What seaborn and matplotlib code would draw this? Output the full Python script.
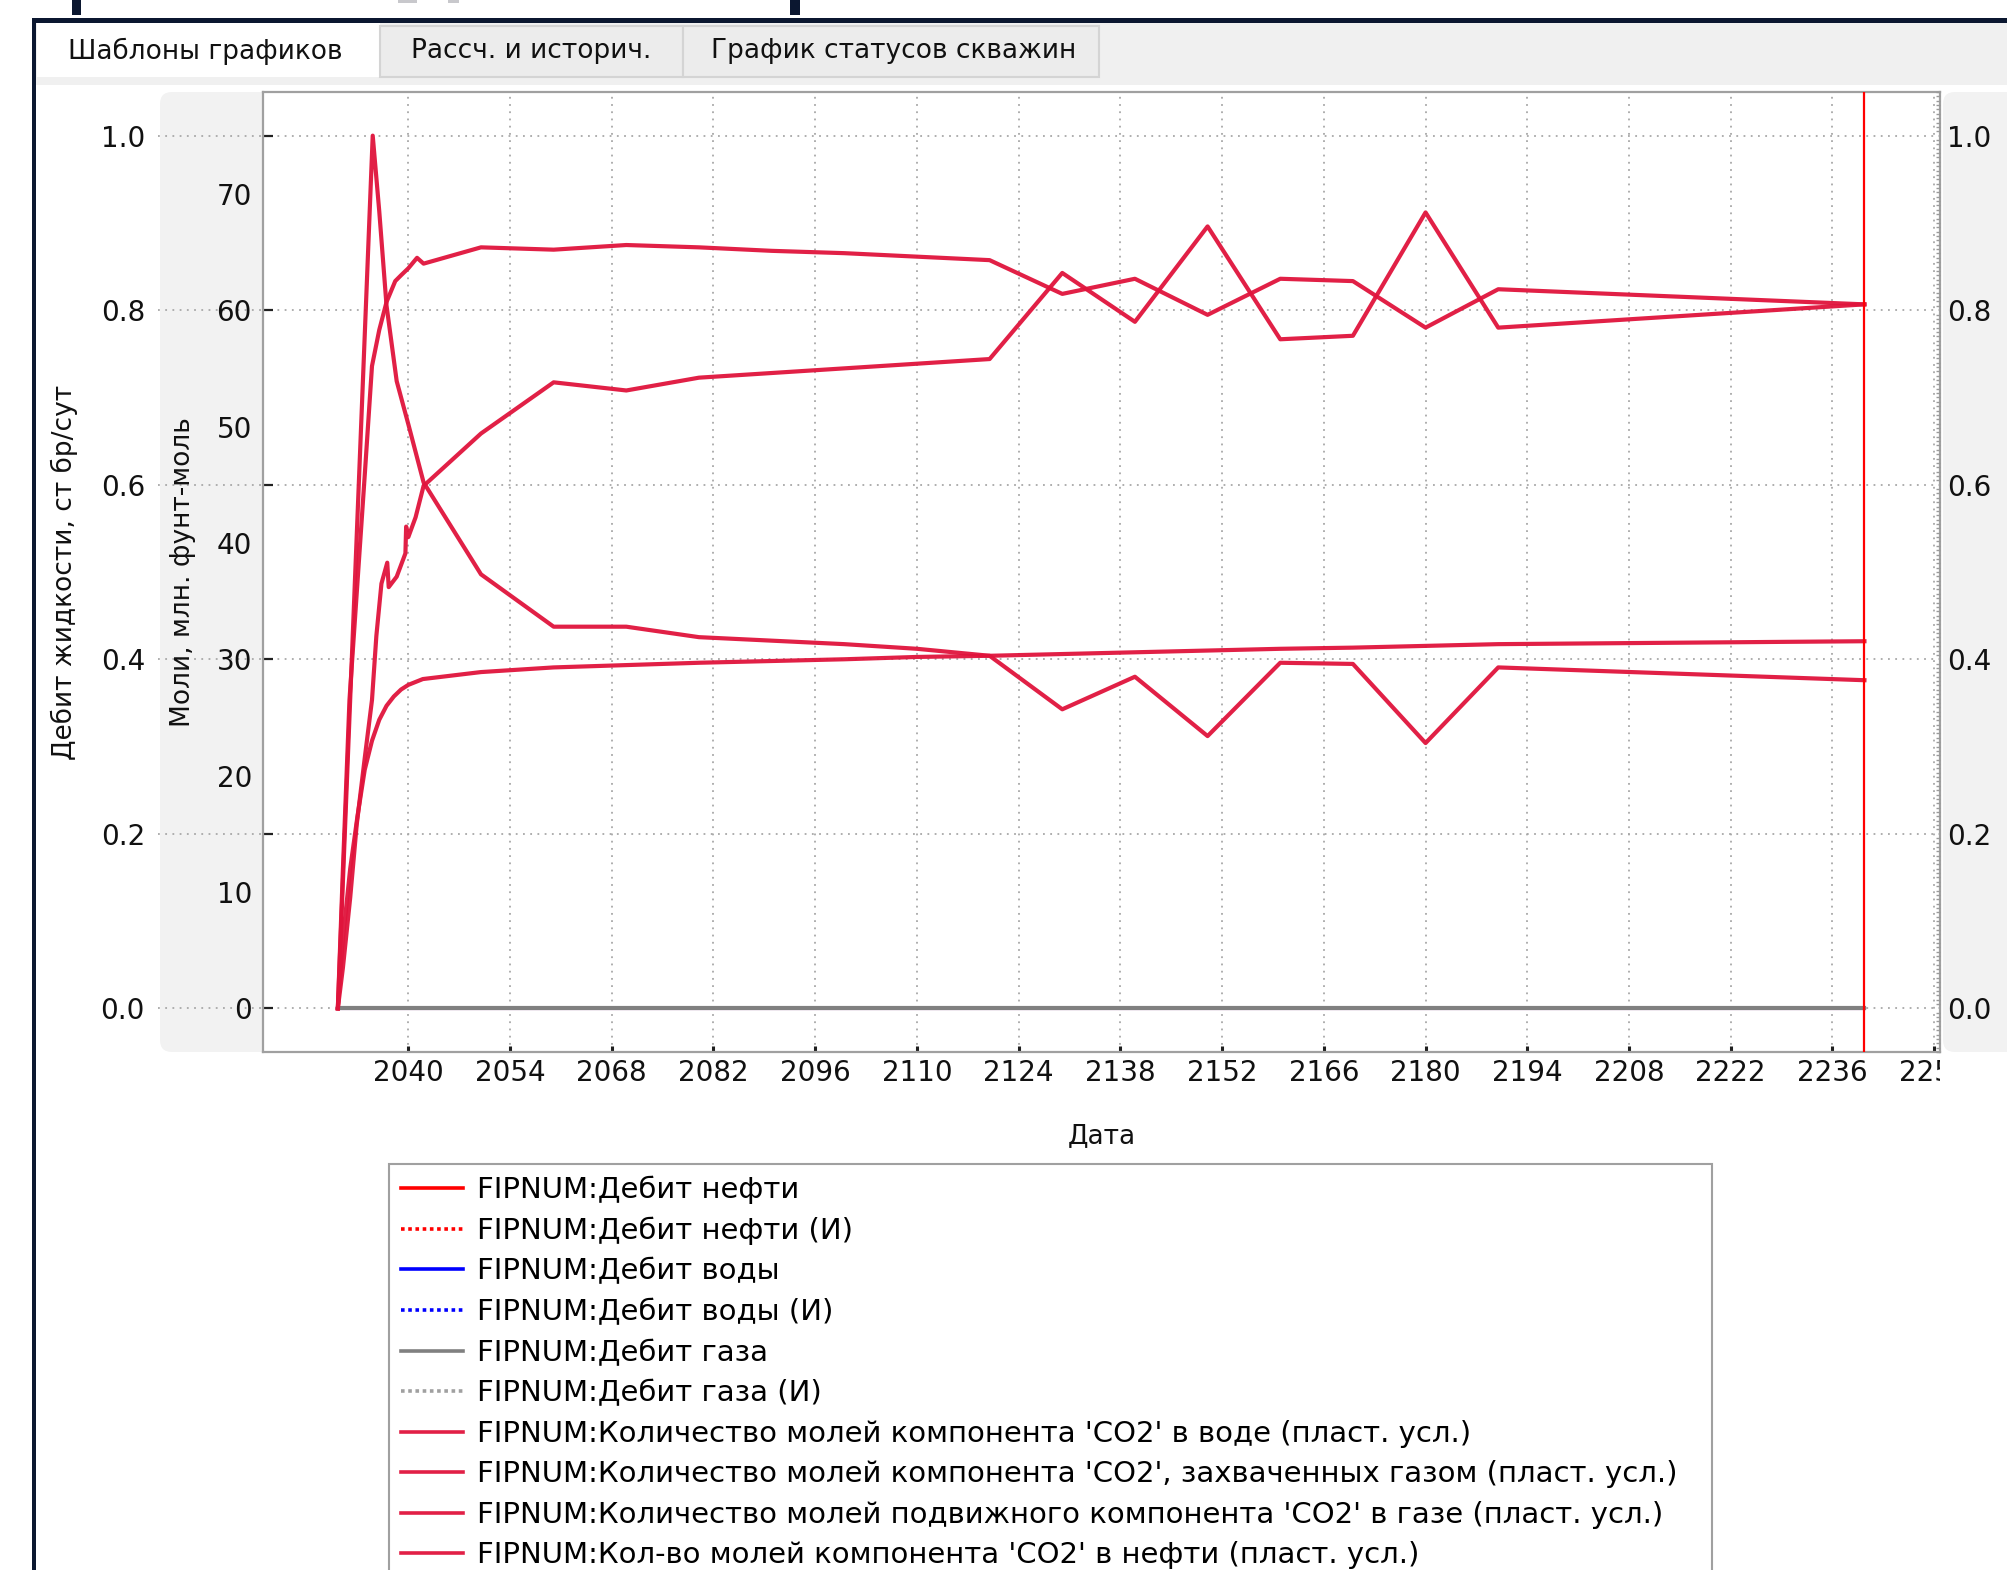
import matplotlib
matplotlib.use("Agg")
import matplotlib.pyplot as plt
import seaborn as sns
from matplotlib.patches import FancyBboxPatch, Rectangle
from matplotlib.lines import Line2D
from matplotlib.ticker import MultipleLocator
from matplotlib.transforms import Bbox, TransformedBbox, IdentityTransform

# ---------------- data ----------------
# Field rates (liquid-rate axis, st bbl/day)
rate_dates = [2030.3, 2240.4]
oil_rate = [0.0, 0.0]
water_rate = [0.0, 0.0]
gas_rate = [0.0, 0.0]
current_date = 2240.4

# CO2 moles, million lb-mol
co2_water_dates = [2030.3, 2031, 2032, 2033, 2034, 2035, 2036, 2037, 2038, 2039, 2040,
                   2042, 2050, 2060, 2070, 2080, 2090, 2100, 2110, 2120, 2130, 2140,
                   2150, 2160, 2170, 2180, 2190, 2200, 2210, 2220, 2230, 2240.4]
co2_water = [0.0, 6.0, 12.0, 16.5, 20.5, 23.0, 24.8, 26.0, 26.8, 27.4, 27.8,
             28.3, 28.9, 29.3, 29.5, 29.7, 29.85, 30.0, 30.2, 30.3, 30.45, 30.6,
             30.75, 30.9, 31.0, 31.15, 31.3, 31.35, 31.4, 31.45, 31.5, 31.55]

co2_trapped_dates = [2030.3, 2035.1, 2036, 2037, 2038.4, 2040, 2042.1, 2050, 2060, 2070,
                     2080, 2090, 2100, 2110, 2120, 2130, 2140, 2150, 2160, 2170, 2180,
                     2190, 2240.4]
co2_trapped = [0.0, 75.0, 68.5, 60.4, 53.9, 50.2, 45.2, 37.3, 32.8, 32.8,
               31.9, 31.6, 31.3, 30.9, 30.3, 25.7, 28.5, 23.4, 29.7, 29.6, 22.8,
               29.3, 28.2]

co2_mobile_dates = [2030.3, 2031, 2032, 2032.9, 2034, 2035.0, 2035.6, 2036.3, 2037.1,
                    2037.3, 2038.4, 2039.6, 2039.7, 2040.0, 2041.0, 2042.1, 2050, 2060,
                    2070, 2080, 2090, 2100, 2110, 2120, 2130, 2140, 2150, 2160, 2170,
                    2180, 2190, 2240.4]
co2_mobile = [0.0, 3.5, 9.5, 15.8, 21.5, 26.5, 32.0, 36.5, 38.3,
              36.2, 37.1, 39.1, 41.4, 40.5, 42.2, 44.9, 49.4, 53.8,
              53.1, 54.2, 54.6, 55.0, 55.4, 55.8, 63.2, 59.0, 67.2, 57.5, 57.8,
              68.4, 58.5, 60.5]

co2_oil_dates = [2030.3, 2031, 2031.9, 2033, 2034, 2035, 2036, 2037, 2038.2, 2039, 2040,
                 2041.2, 2042.1, 2050, 2060, 2070, 2080, 2090, 2100, 2110, 2120, 2130,
                 2140, 2150, 2160, 2170, 2180, 2190, 2240.4]
co2_oil = [0.0, 12.0, 26.5, 36.6, 45.8, 55.2, 58.3, 60.7, 62.5, 63.0, 63.6,
           64.5, 64.0, 65.4, 65.2, 65.6, 65.4, 65.1, 64.9, 64.6, 64.3, 61.4,
           62.7, 59.6, 62.7, 62.5, 58.5, 61.8, 60.5]

rate_ticks = [0.0, 0.2, 0.4, 0.6, 0.8, 1.0]
rate_tick_labels = ["0.0", "0.2", "0.4", "0.6", "0.8", "1.0"]
mole_ticks = [0, 10, 20, 30, 40, 50, 60, 70]
mole_tick_labels = ["0", "10", "20", "30", "40", "50", "60", "70"]
year_ticks = [2040, 2054, 2068, 2082, 2096, 2110, 2124, 2138, 2152, 2166,
              2180, 2194, 2208, 2222, 2236, 2250]
year_tick_labels = [str(y) for y in year_ticks]

tab_titles = ["Шаблоны графиков", "Рассч. и историч.", "График статусов скважин"]
legend_labels = [
    "FIPNUM:Дебит нефти",
    "FIPNUM:Дебит нефти (И)",
    "FIPNUM:Дебит воды",
    "FIPNUM:Дебит воды (И)",
    "FIPNUM:Дебит газа",
    "FIPNUM:Дебит газа (И)",
    "FIPNUM:Количество молей компонента 'CO2' в воде (пласт. усл.)",
    "FIPNUM:Количество молей компонента 'CO2', захваченных газом (пласт. усл.)",
    "FIPNUM:Количество молей подвижного компонента 'CO2' в газе (пласт. усл.)",
    "FIPNUM:Кол-во молей компонента 'CO2' в нефти (пласт. усл.)",
]

# ---------------- styling ----------------
plt.rcParams["font.family"] = ["DejaVu Sans"]
W, H = 2008, 1570
fig = plt.figure(figsize=(W / 100, H / 100), dpi=100)
fig.patch.set_facecolor("white")

NAVY = "#0b1730"
CO2_RED = "#e0143c"
PANEL = "#f2f2f2"
GRID = "#a8a8a8"


def fx(px):
    return px / W


def fy(py):
    return 1 - py / H


def pix_rect(x0, y0, x1, y1, z=-5, **kw):
    """Rectangle given in top-left pixel coordinates."""
    r = Rectangle((x0, H - y1), x1 - x0, y1 - y0, transform=IdentityTransform(),
                  zorder=z, **kw)
    fig.add_artist(r)
    return r


def pix_round(x0, y0, x1, y1, rad, z=-5, **kw):
    p = FancyBboxPatch((x0, H - y1), x1 - x0, y1 - y0,
                       boxstyle=f"round,pad=0,rounding_size={rad}",
                       transform=IdentityTransform(), zorder=z, **kw)
    fig.add_artist(p)
    return p


# window chrome
pix_rect(72, 0, 81, 15, facecolor=NAVY, edgecolor="none")
pix_rect(790, 0, 800, 15, facecolor=NAVY, edgecolor="none")
pix_rect(398, 0, 417, 3, facecolor="#c8c8cc", edgecolor="none")
pix_rect(448, 0, 459, 3, facecolor="#c8c8cc", edgecolor="none")
pix_rect(34, 23, W + 5, 85, facecolor="#f0f0f0", edgecolor="none")
pix_rect(37, 23, 380, 77, facecolor="white", edgecolor="none")
pix_rect(380, 26, 683, 77, facecolor="#ececec", edgecolor="#d4d4d4", lw=1.5)
pix_rect(683, 26, 1099, 77, facecolor="#ececec", edgecolor="#d4d4d4", lw=1.5)
pix_rect(32, 18, W + 5, 23, z=5, facecolor=NAVY, edgecolor="none")
pix_rect(32, 18, 36, H + 5, z=5, facecolor=NAVY, edgecolor="none")

for title, cx in zip(tab_titles, [205, 531, 894]):
    fig.text(fx(cx), fy(51), title, ha="center", va="center", fontsize=19, color="#111111")

# axis panels
pix_round(160, 92, 275, 1052, 12, facecolor=PANEL, edgecolor="none")
pix_round(1943, 92, W + 30, 1052, 12, facecolor=PANEL, edgecolor="none")

# ---------------- axes ----------------
left, right, top, bottom = 263, 1940, 92, 1052
ax1 = fig.add_axes([fx(left), fy(bottom), fx(right) - fx(left), (bottom - top) / H])
ax1.set_facecolor("white")
ax2 = ax1.twinx()
ax3 = ax1.twinx()

xlim = (2020.0, 2250.8)
ax1.set_xlim(*xlim)
ax1.set_ylim(-0.05, 1.05)
ax2.set_ylim(-3.75, 78.75)
ax3.set_ylim(-0.05, 1.05)

# rates
sns.lineplot(x=rate_dates, y=oil_rate, ax=ax1, color="#ff0000", lw=2.2,
             estimator=None, sort=False, legend=False)
sns.lineplot(x=rate_dates, y=water_rate, ax=ax1, color="#0000ff", lw=2.2,
             estimator=None, sort=False, legend=False)
sns.lineplot(x=rate_dates, y=gas_rate, ax=ax1, color="#808080", lw=3.0,
             estimator=None, sort=False, legend=False)
oil_line, water_line, gas_line = ax1.lines[-3:]
oil_hist, = ax1.plot([], [], color="#ff0000", lw=2.4, ls=(0, (1, 1)))
water_hist, = ax1.plot([], [], color="#0000ff", lw=2.4, ls=(0, (1, 1)))
gas_hist, = ax1.plot([], [], color="#a0a0a0", lw=2.4, ls=(0, (1, 1)))

# CO2 moles
co2_series = [
    (co2_water_dates, co2_water),
    (co2_trapped_dates, co2_trapped),
    (co2_mobile_dates, co2_mobile),
    (co2_oil_dates, co2_oil),
]
for xs, ys in co2_series:
    sns.lineplot(x=xs, y=ys, ax=ax2, color=CO2_RED, lw=3.0,
                 estimator=None, sort=False, legend=False)
co2_lines = ax2.lines[-4:]
for ln in co2_lines:
    ln.set_alpha(0.95)

# current date marker
ax3.axvline(current_date, color="#ff0000", lw=1.6, zorder=6)

# ---------------- ticks & grid ----------------
dotted = (0, (1, 3))
ax1.set_yticks(rate_ticks, rate_tick_labels)
ax1.set_xticks(year_ticks, year_tick_labels)
ax1.tick_params(axis="y", direction="in", length=7, width=1.6, color="#202020",
                pad=85, labelsize=20, labelcolor="#111111")
ax1.tick_params(axis="x", direction="in", length=4, width=2.2, color="#202020",
                pad=5, labelsize=20, labelcolor="#111111")
ax1.grid(True, which="major", color=GRID, lw=1.3, ls=dotted)
for y in rate_ticks:
    ax1.add_line(Line2D([-(left - 158) / (right - left), 0], [y, y],
                        transform=ax1.get_yaxis_transform(), clip_on=False,
                        color=GRID, lw=1.3, ls=dotted))

ax2.yaxis.tick_left()
ax2.yaxis.set_label_position("left")
ax2.set_yticks(mole_ticks, mole_tick_labels)
ax2.tick_params(axis="y", length=0, pad=8, labelsize=20, labelcolor="#111111")

ax3.set_yticks(rate_ticks, rate_tick_labels)
ax3.yaxis.set_minor_locator(MultipleLocator(0.005))
ax3.tick_params(axis="y", which="major", length=0, pad=5, labelsize=20, labelcolor="#111111")
ax3.tick_params(axis="y", which="minor", direction="in", length=3, width=1.0, color="#9a9a9a")

for a in (ax2, ax3):
    for s in a.spines.values():
        s.set_visible(False)
for s in ax1.spines.values():
    s.set_color("#a0a0a0")
    s.set_linewidth(1.6)

# axis titles
ax1.set_ylabel("Дебит жидкости, ст бр/сут", fontsize=19, color="#111111")
ax1.yaxis.set_label_coords((64 - left) / (right - left), 0.5)
ax1.yaxis.label.set_va("center")
ax2.set_ylabel("Моли, млн. фунт-моль", fontsize=19, color="#111111")
ax2.yaxis.set_label_coords((183 - left) / (right - left), 0.5)
ax2.yaxis.label.set_va("center")
ax1.set_xlabel("Дата", fontsize=19, color="#111111")
ax1.xaxis.set_label_coords(0.5, -(1136 - bottom) / (bottom - top))
ax1.xaxis.label.set_va("center")

# the tick labels are cut at the plot's right border
clip_box = TransformedBbox(Bbox([[0, 0], [fx(right), 1]]), fig.transFigure)
for lbl in ax1.get_xticklabels():
    lbl.set_clip_box(clip_box)
    lbl.set_clip_on(True)

# ---------------- legend ----------------
handles = [oil_line, oil_hist, water_line, water_hist, gas_line, gas_hist] + list(co2_lines)
leg = fig.legend(handles, legend_labels, loc="upper left",
                 bbox_to_anchor=(fx(389), fy(1164), fx(1712) - fx(389), 0),
                 mode="expand", borderaxespad=0, prop={"family": "DejaVu Sans", "size": 21},
                 handlelength=2.14, handletextpad=0.47, borderpad=0.4, labelspacing=0.43,
                 fancybox=False, framealpha=1.0, edgecolor="#a0a0a0")
leg.get_frame().set_linewidth(1.5)
for h in leg.legend_handles:
    h.set_linewidth(2.6)

fig.savefig("out.png", dpi=100)
